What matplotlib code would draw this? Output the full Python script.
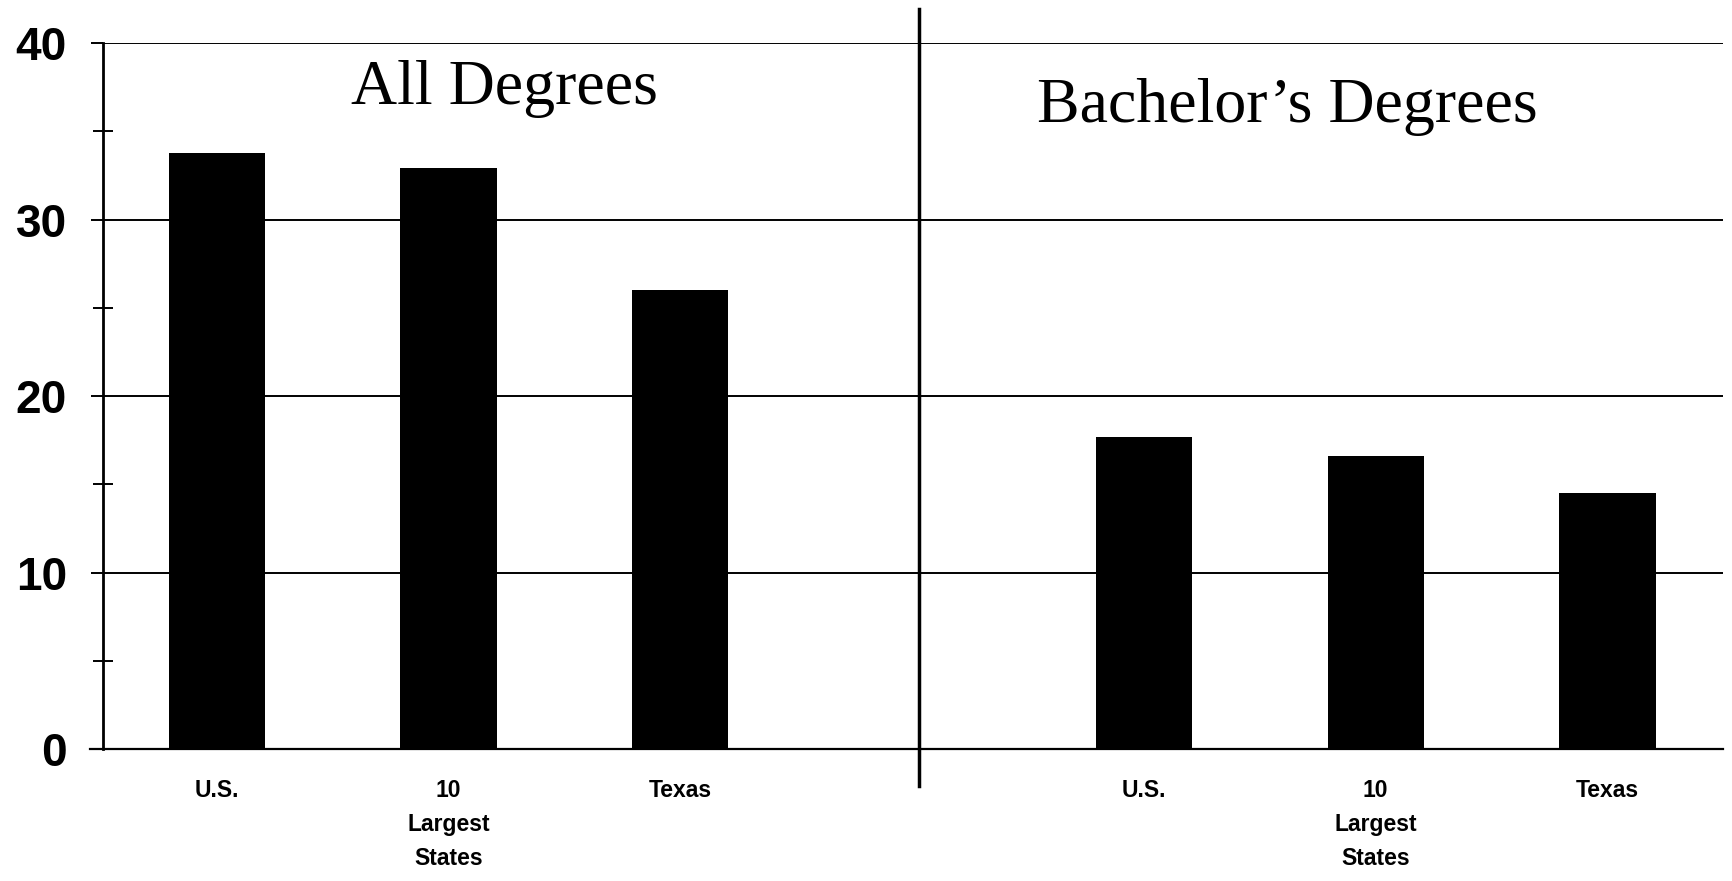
import numpy as np
import matplotlib
matplotlib.use('Agg')
from matplotlib import pyplot as plt

# data
groups = ['All Degrees', 'Bachelor\u2019s Degrees']
categories = ['U.S.', '10\nLargest\nStates', 'Texas']
all_degrees = [33.8, 32.9, 26.0]
bachelors = [17.7, 16.6, 14.5]
yticks = [0, 10, 20, 30, 40]

fig = plt.figure(figsize=(17.32, 8.81), dpi=100)
ax = fig.add_axes([0.0595, 0.1498, 0.9355, 0.8012])

# slots 0-2 for the first group, 4-6 for the second, slot 3 left empty
x_all = np.arange(3)
x_bach = np.arange(3) + 4
ax.bar(x_all, all_degrees, width=0.415, color='black', zorder=3)
ax.bar(x_bach, bachelors, width=0.415, color='black', zorder=3)

ax.set_xlim(-0.49, 6.5)
ax.set_ylim(0, 40)
ax.set_yticks(yticks)
ax.set_yticks([5, 15, 25, 35], minor=True)
ax.set_yticklabels([str(t) for t in yticks], fontsize=33, fontweight='bold',
                   family='Liberation Sans')
ax.yaxis.grid(True, which='major', color='black', lw=1.4, zorder=1)
ax.tick_params(axis='y', which='major', length=9, width=1.4, pad=17)
ax.tick_params(axis='y', which='minor', direction='inout', length=14, width=1.4)

ax.set_xticks(list(x_all) + list(x_bach))
ax.set_xticklabels(categories * 2, fontsize=16.5, fontweight='bold',
                   family='Liberation Sans', linespacing=1.62, va='top')
ax.tick_params(axis='x', length=0, pad=21.5)

for s in ['top', 'right', 'bottom']:
    ax.spines[s].set_visible(False)
ax.spines['left'].set_linewidth(2)
ax.axhline(0, color='black', lw=1.6, zorder=4, xmin=-0.008, clip_on=False)

# separator between the two groups
ax.axvline(3.03, ymin=-0.053, ymax=1.048, color='black', lw=2.5, clip_on=False)

ax.text(1.243, 37.4, groups[0], ha='center', va='center', fontsize=46,
        family='Liberation Serif')
ax.text(4.62, 36.4, groups[1], ha='center', va='center', fontsize=46,
        family='Liberation Serif')

fig.savefig('out.png', dpi=100, facecolor='white')
